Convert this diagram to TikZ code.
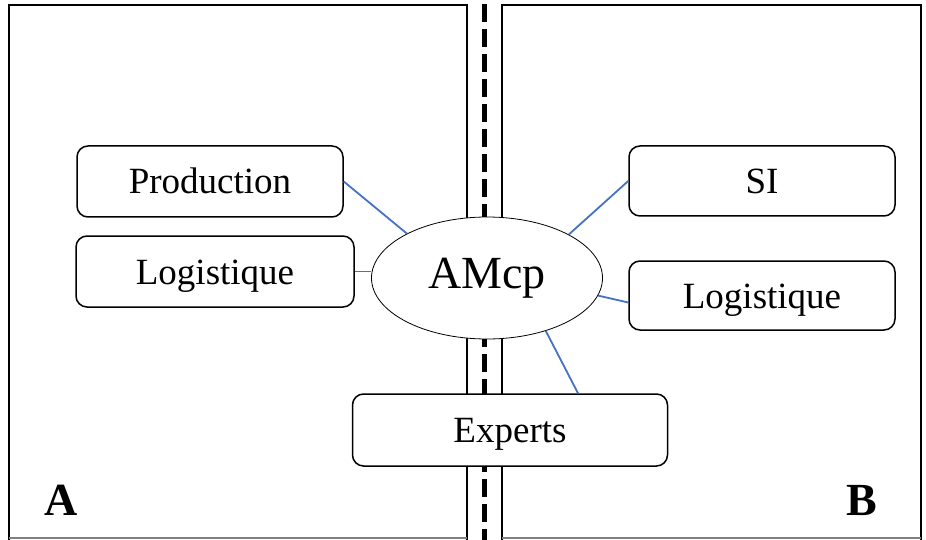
\documentclass[tikz,border=0pt]{standalone}
\usepackage{fontspec}
\setmainfont{Liberation Serif}
\usetikzlibrary{shapes.geometric}
\definecolor{linkblue}{HTML}{4472C4}
\begin{document}
\begin{tikzpicture}[x=1pt, y=-1pt,
        box/.style={draw, line width=1.5pt, rounded corners=11pt, fill=white, inner sep=0pt,
            text height=29pt, text depth=4pt, font=\fontsize{37}{40}\selectfont},
        link/.style={draw=linkblue, line width=1.8pt},
        panel/.style={line width=2pt},
        tag/.style={font=\fontsize{46}{48}\selectfont\bfseries}]
        \useasboundingbox (0,0) rectangle (926,540);

        % Panels
        \draw[panel] (9,540) -- (9,5) -- (467,5) -- (467,540);
        \draw[panel] (502,540) -- (502,5) -- (921,5) -- (921,540);
        \draw[panel, gray] (9,538) -- (467,538);
        \draw[panel, gray] (502,538) -- (921,538);
        \draw[line width=5pt, dash pattern=on 18pt off 7pt] (484.5,4) -- (484.5,540);

        % Nodes
        \node[draw, ellipse, line width=0.8pt, fill=white, minimum width=231pt, minimum height=122pt,
            inner sep=0pt, text height=30pt, text depth=10pt,
            font=\fontsize{46}{48}\selectfont] (amcp) at (487,278) {AMcp};
        \node[box, minimum width=266pt, minimum height=71pt] (prod) at (210,181.5) {Production};
        \node[box, minimum width=278pt, minimum height=71pt] (logA) at (215,271.5) {Logistique};
        \node[box, minimum width=266pt, minimum height=70pt] (si) at (762,181) {SI};
        \node[box, minimum width=266pt, minimum height=69pt] (logB) at (762,295.5) {Logistique};
        \node[box, minimum width=315pt, minimum height=72pt] (experts) at (510,430) {Experts};

        \node[tag] (tagA) at (61,500) {A};
        \node[tag] (tagB) at (862,501) {B};

        % Links
        \path[link] (prod.east) -- (amcp.151);
        \path[link] (logA.east) -- (amcp.west |- logA.east);
        \path[link] (si.west) -- (amcp.28);
        \path[link] ([yshift=-7pt]logB.west) -- (amcp.-9);
        \path[link] ([xshift=68pt]experts.north) -- (amcp.-42);
    \end{tikzpicture}
\end{document}
